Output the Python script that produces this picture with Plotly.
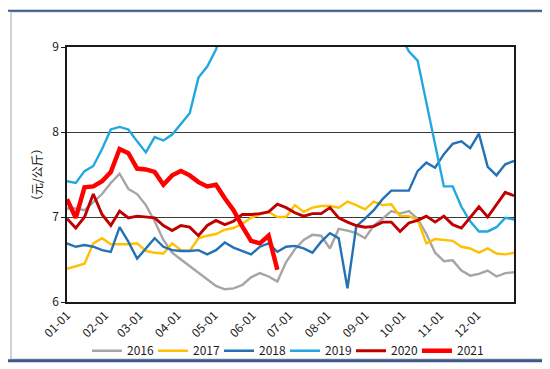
import plotly.graph_objects as go

# ---- data (weekly observations, 元/公斤) ----
years = ["2016", "2017", "2018", "2019", "2020", "2021"]

v2016 = [7.10, 7.10, 7.08, 7.17, 7.27, 7.40, 7.51, 7.33, 7.27, 7.14,
         6.95, 6.73, 6.58, 6.50, 6.42, 6.34, 6.26, 6.19, 6.15, 6.16,
         6.20, 6.29, 6.34, 6.30, 6.24, 6.47, 6.62, 6.73, 6.79, 6.78,
         6.63, 6.86, 6.84, 6.81, 6.75, 6.90, 6.98, 7.07, 7.04, 7.07,
         6.98, 6.80, 6.58, 6.48, 6.49, 6.37, 6.31, 6.33, 6.37, 6.30,
         6.34, 6.35]
v2017 = [6.39, 6.42, 6.45, 6.69, 6.75, 6.68, 6.68, 6.68, 6.69, 6.60,
         6.58, 6.57, 6.69, 6.61, 6.60, 6.75, 6.78, 6.80, 6.85, 6.87,
         6.92, 6.99, 7.03, 7.06, 7.00, 7.00, 7.14, 7.06, 7.11, 7.13,
         7.13, 7.11, 7.18, 7.14, 7.09, 7.18, 7.14, 7.15, 7.01, 7.01,
         6.97, 6.69, 6.74, 6.73, 6.72, 6.65, 6.63, 6.58, 6.63, 6.57,
         6.56, 6.58]
v2018 = [6.69, 6.65, 6.67, 6.65, 6.61, 6.59, 6.88, 6.71, 6.51, 6.63,
         6.75, 6.65, 6.61, 6.60, 6.60, 6.61, 6.56, 6.61, 6.70, 6.64,
         6.60, 6.56, 6.65, 6.69, 6.59, 6.65, 6.66, 6.63, 6.58, 6.71,
         6.81, 6.75, 6.16, 6.89, 6.98, 7.08, 7.21, 7.31, 7.31, 7.31,
         7.54, 7.64, 7.58, 7.74, 7.86, 7.89, 7.81, 7.98, 7.59, 7.49,
         7.62, 7.66]
v2019 = [7.42, 7.40, 7.54, 7.60, 7.80, 8.03, 8.06, 8.03, 7.89, 7.76,
         7.94, 7.90, 7.97, 8.09, 8.22, 8.64, 8.77, 8.97, 9.30, 9.60,
         9.90, 10.10, 10.40, 10.60, 10.80, 11.00, 11.20, 11.40, 11.60, 11.80,
         11.90, 12.00, 11.80, 11.50, 11.00, 10.50, 10.00, 9.60, 9.15, 8.95,
         8.84, 8.35, 7.85, 7.36, 7.36, 7.12, 6.95, 6.83, 6.83, 6.88,
         6.99, 6.97]
v2020 = [6.98, 6.87, 7.00, 7.27, 7.03, 6.90, 7.07, 6.99, 7.01, 7.00,
         6.99, 6.90, 6.84, 6.90, 6.88, 6.78, 6.90, 6.96, 6.91, 6.95,
         7.03, 7.03, 7.04, 7.06, 7.15, 7.11, 7.05, 7.01, 7.04, 7.04,
         7.11, 6.99, 6.94, 6.90, 6.88, 6.89, 6.94, 6.94, 6.83, 6.93,
         6.96, 7.01, 6.94, 7.01, 6.91, 6.87, 7.00, 7.12, 7.00, 7.15,
         7.29, 7.25]
v2021 = [7.21, 6.99, 7.35, 7.36, 7.42, 7.53, 7.80, 7.75, 7.57, 7.56,
         7.53, 7.38, 7.49, 7.54, 7.49, 7.41, 7.36, 7.38, 7.22, 7.08,
         6.89, 6.72, 6.69, 6.78, 6.38]

month_ticks = ["01-01", "02-01", "03-01", "04-01", "05-01", "06-01",
               "07-01", "08-01", "09-01", "10-01", "11-01", "12-01"]
month_start_day = [0, 31, 59, 90, 120, 151, 181, 212, 243, 273, 304, 334]

series = [v2016, v2017, v2018, v2019, v2020, v2021]
colors = ["#A5A5A5", "#FFC000", "#2471B5", "#22A8E0", "#C00000", "#FF0000"]
widths = [2.4, 2.4, 2.4, 2.4, 2.9, 4.5]

STEP = 364 / 51  # days between weekly observations

W, H = 550, 369
L, R, T, B = 59, 44, 39, 63
pw, ph = W - L - R, H - T - B

def px(x):
    return (x - L) / pw

def py(y):
    return (H - B - y) / ph

fig = go.Figure()
for name, vals, c, w in zip(years, series, colors, widths):
    fig.add_trace(go.Scatter(
        x=[i * STEP for i in range(len(vals))], y=vals, name=name,
        mode="lines", line=dict(color=c, width=w), hoverinfo="skip"))

axis_font = dict(family="Noto Sans CJK SC, Noto Sans, sans-serif", size=12, color="#1a1a1a")

fig.update_layout(
    width=W, height=H, margin=dict(l=L, r=R, t=T, b=B),
    paper_bgcolor="white", plot_bgcolor="white",
    showlegend=True,
    legend=dict(orientation="h", x=px(79), xanchor="left", y=py(357), yanchor="middle",
                font=dict(family="Noto Sans CJK SC, Noto Sans, sans-serif", size=12, color="#1a1a1a"),
                itemwidth=30, entrywidth=21, entrywidthmode="pixels",
                bgcolor="rgba(0,0,0,0)", tracegroupgap=0),
    xaxis=dict(range=[0, 364], tickmode="array", tickvals=month_start_day, ticktext=month_ticks,
               tickangle=-45, showgrid=False, zeroline=False, showline=True,
               linecolor="#1a1a1a", linewidth=1.5, mirror=True, ticks="",
               tickfont=axis_font),
    yaxis=dict(range=[6, 9], tickvals=[6, 7, 8, 9], ticktext=["6", "7", "8", "9"],
               showgrid=True, gridcolor="#3a3a3a", gridwidth=1.2, zeroline=False,
               showline=True, linecolor="#1a1a1a", linewidth=1.5, mirror=True,
               ticks="outside", ticklen=4, tickcolor="#1a1a1a", tickfont=axis_font),
    annotations=[dict(text="（元/公斤）", textangle=-90, x=px(28), y=py(172),
                      xref="paper", yref="paper", showarrow=False,
                      xanchor="center", yanchor="middle",
                      font=dict(family="Noto Sans CJK SC", size=12, color="#1a1a1a"))],
    shapes=[
        dict(type="rect", xref="paper", yref="paper", x0=px(3), x1=px(545), y0=py(366), y1=py(2),
             line=dict(color="#C4C4C4", width=1.5)),
        dict(type="line", xref="paper", yref="paper", x0=px(0), x1=px(550), y0=py(1), y1=py(1),
             line=dict(color="#3E5A8C", width=2)),
        dict(type="line", xref="paper", yref="paper", x0=px(0), x1=px(550), y0=py(367.5), y1=py(367.5),
             line=dict(color="#3E5A8C", width=3)),
    ],
)

fig.write_html("out.html")
